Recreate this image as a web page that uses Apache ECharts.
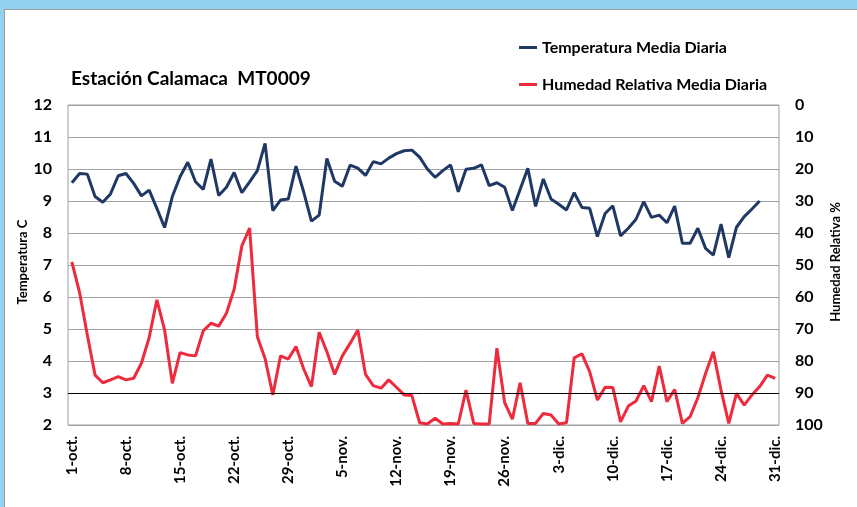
<!DOCTYPE html>
<html>
<head>
<meta charset="utf-8">
<script src="https://cdn.jsdelivr.net/npm/echarts@6/dist/echarts.min.js"></script>
<style>
  html, body { margin: 0; padding: 0; background: #92d2ee; }
  #panel { position: absolute; left: 4px; top: 9px; width: 853px; height: 498px; background: #fff;
           border-top: 1px solid #9a9a9a; border-left: 1px solid #9a9a9a; box-sizing: border-box; }
  #chart { position: absolute; left: 0; top: 0; width: 857px; height: 507px; }
</style>
</head>
<body>
<div id="panel"></div>
<div id="chart"></div>
<script>
  // daily categories, 1-oct .. 31-dic
  var MONTHS = ['oct.', 'nov.', 'dic.'];
  var MONTH_DAYS = [31, 30, 31];

  // Temperatura media diaria (C), left axis
  var TEMP = [
    9.57, 9.86, 9.84, 9.14, 8.96, 9.22, 9.79, 9.86, 9.55, 9.16,
    9.34, 8.77, 8.17, 9.14, 9.76, 10.21, 9.60, 9.36, 10.31, 9.17,
    9.43, 9.89, 9.26, 9.60, 9.95, 10.80, 8.70, 9.03, 9.06, 10.09,
    9.28, 8.37, 8.56, 10.33, 9.62, 9.46, 10.12, 10.03, 9.80, 10.23,
    10.16, 10.34, 10.48, 10.57, 10.59, 10.37, 10.00, 9.74, 9.95, 10.13,
    9.29, 9.99, 10.02, 10.13, 9.48, 9.57, 9.43, 8.70, 9.36, 10.02,
    8.83, 9.69, 9.06, 8.90, 8.72, 9.26, 8.80, 8.77, 7.89, 8.61,
    8.85, 7.91, 8.15, 8.43, 8.98, 8.49, 8.56, 8.32, 8.84, 7.68,
    7.68, 8.15, 7.52, 7.31, 8.28, 7.23, 8.18, 8.51, 8.75, 9.00,
    null, null
  ];

  // Humedad relativa media diaria (%), right axis (inverted)
  var HUM = [
    49.0, 58.6, 71.9, 84.4, 86.8, 85.9, 84.9, 85.9, 85.4, 80.7,
    72.7, 60.9, 70.3, 87.0, 77.4, 78.1, 78.4, 70.6, 68.2, 69.1,
    65.1, 57.6, 44.0, 38.5, 72.4, 79.2, 90.6, 78.4, 79.4, 75.5,
    82.5, 88.0, 71.0, 77.1, 84.2, 78.4, 74.5, 70.3, 84.2, 87.7,
    88.5, 85.9, 88.2, 90.6, 90.8, 99.3, 99.7, 97.9, 99.7, 99.5,
    99.7, 89.1, 99.5, 99.7, 99.7, 76.0, 93.0, 98.2, 86.8, 99.5,
    99.5, 96.4, 96.9, 99.7, 99.3, 79.0, 77.8, 83.3, 92.2, 88.2,
    88.3, 99.0, 94.1, 92.5, 87.7, 92.7, 81.6, 92.7, 88.9, 99.5,
    97.4, 91.5, 83.9, 77.1, 89.1, 99.5, 90.1, 93.8, 90.6, 88.0,
    84.4, 85.4
  ];

  var DAYS = [];
  MONTHS.forEach(function (m, k) {
    for (var d = 1; d <= MONTH_DAYS[k]; d++) DAYS.push(d + '-' + m);
  });

  var FONT = 'Lato';
  var nameStyle = { font: 'bold 13px ' + FONT, fill: '#000', align: 'center', verticalAlign: 'middle' };

  var chart = echarts.init(document.getElementById('chart'));
  chart.setOption({
    animation: false,
    backgroundColor: 'transparent',
    textStyle: { fontFamily: FONT },
    title: {
      text: 'Estación Calamaca  MT0009',
      left: 66, top: 64,
      textStyle: { fontFamily: FONT, fontSize: 19, fontWeight: 'bold', color: '#000' }
    },
    legend: {
      orient: 'vertical',
      left: 514, top: 34,
      itemWidth: 18, itemHeight: 3, itemGap: 20,
      icon: 'rect',
      textStyle: { fontFamily: FONT, fontSize: 16, fontWeight: 'bold', color: '#000', lineHeight: 17 },
      data: ['Temperatura Media Diaria', 'Humedad Relativa Media Diaria']
    },
    // axis titles, both read bottom-to-top
    graphic: [
      { type: 'text', x: 23, y: 262, rotation: Math.PI / 2, style: Object.assign({ text: 'Temperatura C' }, nameStyle) },
      { type: 'text', x: 836, y: 262, rotation: Math.PI / 2, style: Object.assign({ text: 'Humedad Relativa %' }, nameStyle) }
    ],
    grid: {
      left: 68, right: 78, top: 105, bottom: 82,
      show: true, borderColor: '#9d9d9d', borderWidth: 1
    },
    xAxis: {
      type: 'category',
      data: DAYS,
      boundaryGap: true,
      axisLine: { show: false },
      axisTick: { show: false },
      axisLabel: {
        interval: 6, rotate: 90, margin: 11,
        fontFamily: FONT, fontSize: 15, fontWeight: 'bold', color: '#000'
      }
    },
    yAxis: [
      {
        type: 'value', min: 2, max: 12, interval: 1,
        axisLine: { show: false }, axisTick: { show: false },
        axisLabel: { margin: 16, fontFamily: FONT, fontSize: 16, fontWeight: 'bold', color: '#000' },
        splitLine: { lineStyle: { color: '#a3a3a3', width: 1 } }
      },
      {
        type: 'value', min: 0, max: 100, interval: 10, inverse: true, position: 'right',
        axisLine: { show: false }, axisTick: { show: false },
        axisLabel: { margin: 16, fontFamily: FONT, fontSize: 16, fontWeight: 'bold', color: '#000' },
        splitLine: { show: false }
      }
    ],
    series: [
      {
        name: 'Temperatura Media Diaria',
        type: 'line', yAxisIndex: 0, data: TEMP,
        symbol: 'none', color: '#203864',
        lineStyle: { width: 3, color: '#203864' }
      },
      {
        name: 'Humedad Relativa Media Diaria',
        type: 'line', yAxisIndex: 1, data: HUM,
        symbol: 'none', color: '#ee2a3d',
        lineStyle: { width: 3, color: '#ee2a3d' },
        markLine: {
          silent: true, symbol: 'none', label: { show: false },
          lineStyle: { color: '#000', width: 1, type: 'solid' },
          data: [{ yAxis: 90 }]
        },
        z: 1
      }
    ]
  });
</script>
</body>
</html>
